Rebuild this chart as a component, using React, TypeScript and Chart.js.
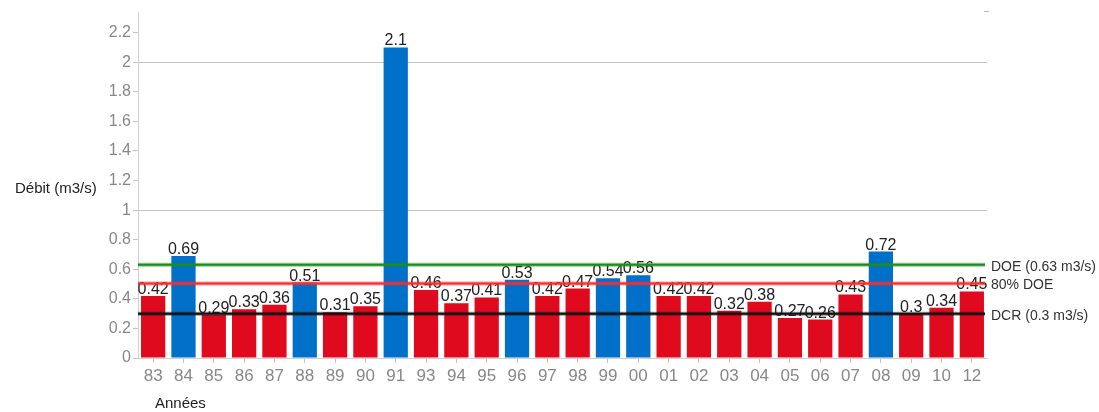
import React, { useEffect, useRef } from "react";
import { Chart, registerables } from "chart.js";

Chart.register(...registerables);

const categories = ["83","84","85","86","87","88","89","90","91","93","94","95","96","97","98","99","00","01","02","03","04","05","06","07","08","09","10","12"];
const debit = [0.42,0.69,0.29,0.33,0.36,0.51,0.31,0.35,2.1,0.46,0.37,0.41,0.53,0.42,0.47,0.54,0.56,0.42,0.42,0.32,0.38,0.27,0.26,0.43,0.72,0.3,0.34,0.45];
const DOE = 0.63;
const DOE80 = 0.8 * DOE;
const DCR = 0.3;
const refLines = [
  { value: DOE, label: "DOE (0.63 m3/s)", color: "#1f8a1f" },
  { value: DOE80, label: "80% DOE", color: "#ff2a2a" },
  { value: DCR, label: "DCR (0.3 m3/s)", color: "#111111" },
];
const RED = "#df0a1d";
const BLUE = "#0070c9";
const FONT = "'Liberation Sans', Arial, sans-serif";

const overlay = {
  id: "overlay",
  afterDatasetsDraw(chart: any) {
    const ctx = chart.ctx;
    const y = chart.scales.y;
    const area = chart.chartArea;
    const meta = chart.getDatasetMeta(0);
    ctx.save();
    // value labels
    ctx.font = `16px ${FONT}`;
    ctx.fillStyle = "#222";
    ctx.textAlign = "center";
    ctx.textBaseline = "alphabetic";
    meta.data.forEach((bar: any, i: number) => {
      ctx.fillText(String(debit[i]), bar.x, bar.y - 2);
    });
    // reference lines
    refLines.forEach((r) => {
      const py = y.getPixelForValue(r.value);
      ctx.strokeStyle = r.color;
      ctx.globalAlpha = 0.45;
      ctx.lineWidth = 4;
      ctx.beginPath();
      ctx.moveTo(area.left, py);
      ctx.lineTo(area.right - 2, py);
      ctx.stroke();
      ctx.globalAlpha = 1;
      ctx.lineWidth = 2;
      ctx.beginPath();
      ctx.moveTo(area.left, py);
      ctx.lineTo(area.right - 2, py);
      ctx.stroke();
      ctx.fillStyle = "#333";
      ctx.font = `14px ${FONT}`;
      ctx.textAlign = "left";
      ctx.textBaseline = "middle";
      ctx.fillText(r.label, area.right + 4, py + 2);
    });
    // axis titles
    ctx.fillStyle = "#222";
    ctx.font = `15px ${FONT}`;
    ctx.textAlign = "left";
    ctx.textBaseline = "middle";
    ctx.fillText("Débit (m3/s)", 15, 189);
    ctx.fillText("Années", 155, 404);
    // small dash top right
    ctx.strokeStyle = "#bbb";
    ctx.lineWidth = 1;
    ctx.beginPath();
    ctx.moveTo(984, 11.5);
    ctx.lineTo(989, 11.5);
    ctx.stroke();
    ctx.restore();
  },
};

export default function App() {
  const ref = useRef<HTMLCanvasElement>(null);
  useEffect(() => {
    const chart = new Chart(ref.current!, {
      type: "bar",
      data: {
        labels: categories,
        datasets: [
          {
            data: debit,
            backgroundColor: debit.map((v) => (v > DOE80 ? BLUE : RED)),
            barPercentage: 0.8,
            categoryPercentage: 1,
          },
        ],
      },
      options: {
        animation: false,
        responsive: false,
        layout: { padding: { left: 0, right: 112, top: 12, bottom: 0 } },
        plugins: { legend: { display: false }, tooltip: { enabled: false } },
        scales: {
          y: {
            min: 0,
            max: 2.34,
            afterBuildTicks: (s: any) => {
              const t = [];
              for (let i = 0; i <= 11; i++) t.push({ value: Math.round(i * 0.2 * 10) / 10 });
              s.ticks = t;
            },
            afterFit: (s: any) => {
              s.width = 138;
            },
            ticks: {
              color: "#888",
              font: { size: 16, family: FONT },
              padding: 2,
              callback: (v: any) => String(Math.round(Number(v) * 10) / 10),
            },
            grid: {
              color: (c: any) => (c.tick && (c.tick.value === 1 || c.tick.value === 2) ? "#c4c4c4" : "rgba(0,0,0,0)"),
              tickColor: "#c4c4c4",
              tickLength: 5,
              lineWidth: 1,
            },
            border: { color: "#d0d0d0" },
          },
          x: {
            afterFit: (s: any) => {
              s.height = 54;
            },
            ticks: {
              color: "#888",
              font: { size: 17, family: FONT },
              padding: 3,
              maxRotation: 0,
              autoSkip: false,
            },
            grid: {
              offset: false,
              drawOnChartArea: false,
              tickColor: "#c4c4c4",
              tickLength: 5,
            },
            border: { color: "#d0d0d0" },
          },
        },
      },
      plugins: [overlay],
    } as any);
    return () => chart.destroy();
  }, []);
  return (
    <div style={{ position: "fixed", left: 0, top: 0, width: 1099, height: 412, background: "#fff" }}>
      <canvas ref={ref} width={1099} height={412} style={{ width: 1099, height: 412 }} />
    </div>
  );
}
